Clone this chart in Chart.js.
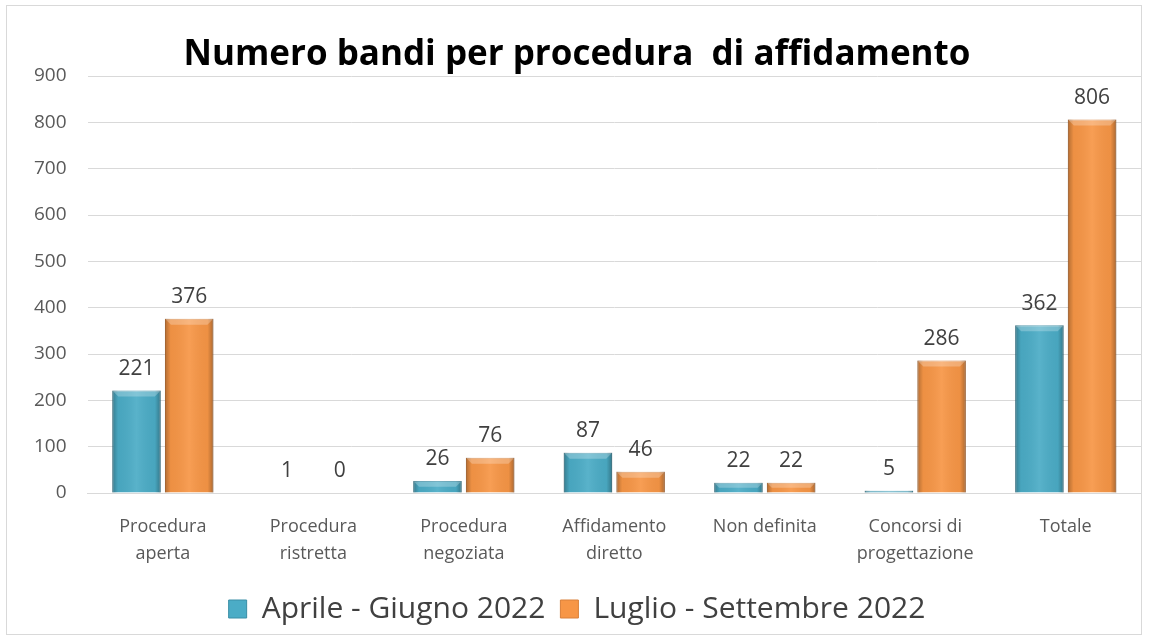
<!DOCTYPE html>
<html>
<head>
<meta charset="utf-8">
<script src="https://cdn.jsdelivr.net/npm/chart.js@4"></script>
<style>
  html, body { margin: 0; padding: 0; background: #ffffff; }
  #wrap { position: absolute; left: 6px; top: 5px; width: 1136px; height: 630px; border: 1px solid #d9d9d9; box-sizing: border-box; }
  #chart { display: block; }
</style>
</head>
<body>
<div id="wrap"><canvas id="chart" width="1134" height="628"></canvas></div>
<script>
var categories = [
  ["Procedura", "aperta"],
  ["Procedura", "ristretta"],
  ["Procedura", "negoziata"],
  ["Affidamento", "diretto"],
  "Non definita",
  ["Concorsi di", "progettazione"],
  "Totale"
];
var aprileGiugno = [221, 1, 26, 87, 22, 5, 362];
var luglioSettembre = [376, 0, 76, 46, 22, 286, 806];
var yTicks = [0, 100, 200, 300, 400, 500, 600, 700, 800, 900];
var seriesColors = ["#4bacc6", "#f79646"];
var seriesBorders = ["#3a8ea6", "#d9803a"];

var FONT = "'Open Sans', 'Noto Sans', sans-serif";

// effetto rilievo sulle barre (bordi scuri, smusso chiaro in alto)
var bevel = {
  id: "bevel",
  afterDatasetsDraw: function (chart) {
    var ctx = chart.ctx;
    ctx.save();
    chart.data.datasets.forEach(function (ds, i) {
      chart.getDatasetMeta(i).data.forEach(function (bar) {
        var h = bar.base - bar.y;
        if (h < 1) return;
        var l = bar.x - bar.width / 2, w = bar.width;
        var g = ctx.createLinearGradient(l, 0, l + w, 0);
        g.addColorStop(0, "rgba(0,0,0,0.28)");
        g.addColorStop(0.12, "rgba(0,0,0,0.04)");
        g.addColorStop(0.5, "rgba(255,255,255,0.08)");
        g.addColorStop(0.88, "rgba(0,0,0,0.04)");
        g.addColorStop(1, "rgba(0,0,0,0.3)");
        ctx.fillStyle = g;
        ctx.fillRect(l, bar.y, w, h);
        var t = Math.min(6, h / 2);
        ctx.fillStyle = "rgba(255,255,255,0.25)";
        ctx.beginPath();
        ctx.moveTo(l, bar.y);
        ctx.lineTo(l + w, bar.y);
        ctx.lineTo(l + w - t, bar.y + t);
        ctx.lineTo(l + t, bar.y + t);
        ctx.closePath();
        ctx.fill();
      });
    });
    ctx.restore();
  }
};

// etichette valori sopra le barre
var valueLabels = {
  id: "valueLabels",
  afterDatasetsDraw: function (chart) {
    var ctx = chart.ctx;
    ctx.save();
    ctx.font = "21px " + FONT;
    ctx.fillStyle = "#404040";
    ctx.textAlign = "center";
    ctx.textBaseline = "bottom";
    chart.data.datasets.forEach(function (ds, i) {
      chart.getDatasetMeta(i).data.forEach(function (bar, j) {
        ctx.fillText(String(ds.data[j]), bar.x, bar.y - 11);
      });
    });
    ctx.restore();
  }
};

new Chart(document.getElementById("chart"), {
  type: "bar",
  data: {
    labels: categories,
    datasets: [{
      label: "Aprile - Giugno 2022",
      data: aprileGiugno,
      backgroundColor: seriesColors[0],
      borderColor: seriesBorders[0],
      borderWidth: 1
    }, {
      label: "Luglio - Settembre 2022",
      data: luglioSettembre,
      backgroundColor: seriesColors[1],
      borderColor: seriesBorders[1],
      borderWidth: 1
    }]
  },
  plugins: [bevel, valueLabels],
  options: {
    responsive: false,
    animation: false,
    layout: { padding: { left: 6, right: 0, top: 28, bottom: 0 } },
    datasets: { bar: { categoryPercentage: 0.7, barPercentage: 0.92 } },
    scales: {
      x: {
        grid: { display: false },
        border: { color: "#d9d9d9" },
        ticks: { color: "#595959", font: { family: FONT, size: 18, lineHeight: 1.5 }, maxRotation: 0, padding: 12 }
      },
      y: {
        min: 0,
        max: 900,
        afterBuildTicks: function (axis) {
          axis.ticks = yTicks.map(function (v) { return { value: v }; });
        },
        grid: { color: "#d9d9d9", drawTicks: false },
        border: { display: false },
        ticks: { color: "#595959", font: { family: FONT, size: 19 }, padding: 21 }
      }
    },
    plugins: {
      title: {
        display: true,
        text: "Numero bandi per procedura  di affidamento",
        color: "#000000",
        font: { family: FONT, size: 35, weight: "bold" },
        padding: { top: 0, bottom: 0 }
      },
      legend: {
        position: "bottom",
        labels: {
          color: "#404040",
          font: { family: FONT, size: 30 },
          boxWidth: 18,
          boxHeight: 18,
          padding: 15,
          generateLabels: function (chart) {
            return chart.data.datasets.map(function (ds, i) {
              return {
                text: ds.label,
                fillStyle: seriesColors[i],
                strokeStyle: seriesBorders[i],
                lineWidth: 1,
                fontColor: "#404040",
                datasetIndex: i
              };
            });
          }
        }
      },
      tooltip: { enabled: false }
    }
  }
});
</script>
</body>
</html>
